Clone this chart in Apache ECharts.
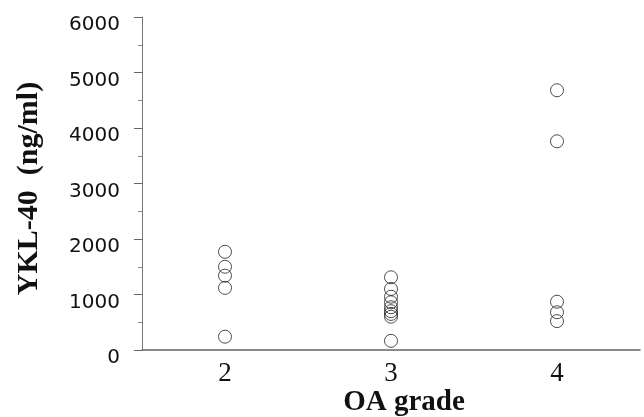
<!DOCTYPE html>
<html>
<head>
<meta charset="utf-8">
<script src="https://cdn.jsdelivr.net/npm/echarts@6/dist/echarts.min.js"></script>
<style>html,body{margin:0;padding:0;background:#fff}#c{width:644px;height:417px}</style>
</head>
<body>
<div id="c"></div>
<script>
var categories = ['2', '3', '4'];
var grade2 = [1770, 1500, 1340, 1120, 240];
var grade3 = [1310, 1100, 960, 860, 770, 700, 650, 600, 165];
var grade4 = [4680, 3760, 870, 680, 520];
var yTicks = [0, 1000, 2000, 3000, 4000, 5000, 6000];

var groups = [grade2, grade3, grade4];
var points = [];
groups.forEach(function (g, i) {
  g.forEach(function (v) { points.push([categories[i], v]); });
});

var chart = echarts.init(document.getElementById('c'));
chart.setOption({
  animation: false,
  grid: { left: 142, right: 4, top: 17, bottom: 67, containLabel: false, outerBoundsMode: 'none' },
  xAxis: {
    type: 'category',
    data: categories,
    boundaryGap: true,
    name: 'OA grade',
    nameLocation: 'middle',
    nameGap: 38,
    nameMoveOverlap: false,
    nameTextStyle: { fontFamily: 'Liberation Serif', fontWeight: 'bold', fontSize: 29, color: '#111', padding: [0, 0, 0, 26] },
    axisLine: { lineStyle: { color: '#666', width: 1.6 } },
    axisTick: { alignWithLabel: true, length: 5, lineStyle: { color: '#666' } },
    axisLabel: { fontFamily: 'Liberation Serif', fontSize: 27, color: '#111', margin: 10 },
    splitLine: { show: false }
  },
  yAxis: {
    type: 'value',
    min: yTicks[0],
    max: yTicks[yTicks.length - 1],
    interval: 1000,
    name: 'YKL-40  (ng/ml)',
    nameLocation: 'middle',
    nameGap: 98,
    nameRotate: 90,
    nameMoveOverlap: false,
    nameTextStyle: { fontFamily: 'Liberation Serif', fontWeight: 'bold', fontSize: 30, color: '#111', padding: [0, 10, 0, 0] },
    axisLine: { show: true, lineStyle: { color: '#777', width: 1 } },
    axisTick: { show: true, length: 8, lineStyle: { color: '#666' } },
    minorTick: { show: true, splitNumber: 2, length: 4, lineStyle: { color: '#888' } },
    axisLabel: {
      fontFamily: 'DejaVu Sans', fontSize: 20, color: '#111', margin: 22,
      verticalAlign: 'top', lineHeight: 16,
      formatter: function (v) { return String(v); }
    },
    splitLine: { show: false }
  },
  series: [{
    type: 'scatter',
    data: points,
    symbol: 'circle',
    symbolSize: 13,
    itemStyle: { color: 'rgba(255,255,255,0)', borderColor: '#222', borderWidth: 1 }
  }]
});
</script>
</body>
</html>
